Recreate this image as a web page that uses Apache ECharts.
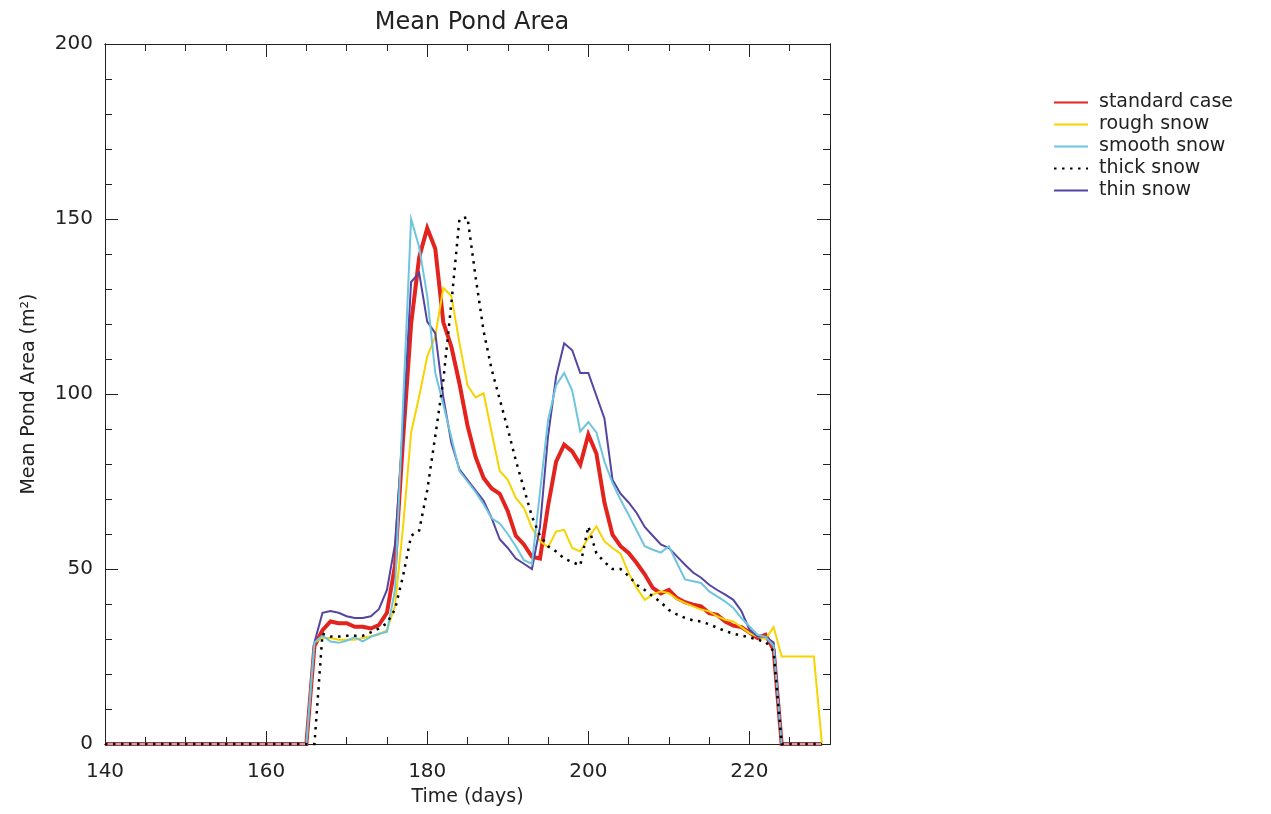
<!DOCTYPE html>
<html>
<head>
<meta charset="utf-8">
<script src="https://cdn.jsdelivr.net/npm/echarts@6/dist/echarts.min.js"></script>
<style>
html,body{margin:0;padding:0;background:#fff;}
#chart{width:1271px;height:814px;}
</style>
</head>
<body>
<div id="chart"></div>
<script>
const days = [140,141,142,143,144,145,146,147,148,149,150,151,152,153,154,155,156,157,158,159,
160,161,162,163,164,165,166,167,168,169,170,171,172,173,174,175,176,177,178,179,
180,181,182,183,184,185,186,187,188,189,190,191,192,193,194,195,196,197,198,199,
200,201,202,203,204,205,206,207,208,209,210,211,212,213,214,215,216,217,218,219,
220,221,222,223,224,225,226,227,228,229];

const standardCase = [0,0,0,0,0,0,0,0,0,0,0,0,0,0,0,0,0,0,0,0,0,0,0,0,0,0,
28,32.5,35,34.5,34.5,33.5,33.5,33,34,37.5,51,87,120,139,147.4,141.5,120.5,113.5,103,91,
82,76,73,71.5,66.5,59.5,57,53.5,53,68,80.7,85.5,83.6,79.8,88.4,83,69,59.8,56.5,54.6,
51.7,48.5,44.6,43,44,41.7,40.5,39.8,39.3,37.4,36.9,35,33.8,33.4,31.9,30.3,31.2,27,
0,0,0,0,0,0];

const roughSnow = [0,0,0,0,0,0,0,0,0,0,0,0,0,0,0,0,0,0,0,0,0,0,0,0,0,0,
29,30.3,30.3,29.8,29.8,29.8,30.3,30.8,31.3,32.5,39.5,62,89,99.3,110.7,116.5,130.3,128,114.6,102.5,
99,100.2,89,78,75.5,70.3,67.5,61.7,58,56.2,60.7,61.2,56,55,58.9,62.2,57.9,56,54.4,48.9,
44.6,41.2,42.7,43.6,43.1,41.4,40.3,39.3,38.4,37.9,36.5,35.5,35,33.4,31.7,30.7,30,33.4,
25,25,25,25,25,0];

const smoothSnow = [0,0,0,0,0,0,0,0,0,0,0,0,0,0,0,0,0,0,0,0,0,0,0,0,0,0,
29,31,29.3,28.9,29.5,30.5,29.3,30.6,31.5,32,44,97,150,142,128,106,97,87.5,78,75,
72,68.5,64.5,63,60,56.5,52.5,51.5,72,92.5,102.5,106,101,89.3,92,89,80.7,74.6,69.8,65.5,
61,56.5,55.5,54.7,56.5,51.7,47,46.5,46,43.6,42.2,40.7,38.9,36,33.6,31.2,30.6,28,
0,0,0,0,0,0];

const thickSnow = [0,0,0,0,0,0,0,0,0,0,0,0,0,0,0,0,0,0,0,0,0,0,0,0,0,0,
0,31.5,30.7,30.7,30.9,30.9,30.9,31.9,33,34.5,38.5,48,59.5,61,72.5,88,104,126,150,150.5,
133.5,118,107,98.5,90,81,73,65,59.5,56.5,55,53,52,51,62.2,54.5,52,50,50,48,
45.5,44,42.2,40.5,38.3,37,36,35.3,35,34.2,33.2,32.3,31.5,31,30.5,29.8,29.2,26.5,
0,0,0,0,0,0];

const thinSnow = [0,0,0,0,0,0,0,0,0,0,0,0,0,0,0,0,0,0,0,0,0,0,0,0,0,0,
29,37.5,38,37.5,36.5,36,36,36.5,38.5,44,57,90,132,134.6,120.7,117.4,99,86,78.5,75.5,
72.5,69.5,64.5,58.5,56,53,51.5,50,62,88,105,114.5,112.5,106,106,99.5,93,75.5,71.5,69,
66,62,59.5,57,56,53.6,51.2,49,47.5,45.5,44,42.7,41.2,38,32.7,30.7,30.7,29,
0,0,0,0,0,0];

const seriesNames = ['standard case','rough snow','smooth snow','thick snow','thin snow'];
const xTickLabels = ['140','160','180','200','220'];
const yTickLabels = ['0','50','100','150','200'];

const FONT = 'DejaVu Sans';
const INK = '#222';

function pairs(vals){ return days.map((d,i)=>[d, vals[i]]); }

const chart = echarts.init(document.getElementById('chart'), null, {renderer:'canvas'});

function xAxisDef(pos, interval, tickLen, showLabels, name){
  return {
    type:'value', position:pos, min:140, max:230, interval:interval,
    axisLine:{show:true, onZero:false, lineStyle:{color:INK, width:1}},
    axisTick:{show:true, inside:true, length:tickLen, lineStyle:{color:INK, width:1}},
    splitLine:{show:false},
    axisLabel:{show:showLabels, margin:18, fontFamily:FONT, fontSize:20, color:INK,
      showMaxLabel:false,
      formatter:function(v){ const s=String(v); return xTickLabels.indexOf(s)>=0 ? s : ''; }},
    name: name || '', nameLocation:'middle', nameGap:44,
    nameTextStyle:{fontFamily:FONT, fontSize:19, color:INK}
  };
}
function yAxisDef(pos, interval, tickLen, showLabels, name){
  return {
    type:'value', position:pos, min:0, max:200, interval:interval,
    axisLine:{show:true, onZero:false, lineStyle:{color:INK, width:1}},
    axisTick:{show:true, inside:true, length:tickLen, lineStyle:{color:INK, width:1}},
    splitLine:{show:false},
    axisLabel:{show:showLabels, margin:12, fontFamily:FONT, fontSize:20, color:INK,
      formatter:function(v){ const s=String(v); return yTickLabels.indexOf(s)>=0 ? s : ''; }},
    name: name || '', nameLocation:'middle', nameGap:66, nameRotate:90,
    nameTextStyle:{fontFamily:FONT, fontSize:19, color:INK}
  };
}

const lineDefs = [
  {name:'standard case', data:standardCase, color:'#e2231e', width:4, type:'solid'},
  {name:'rough snow', data:roughSnow, color:'#f7d400', width:2, type:'solid'},
  {name:'thin snow', data:thinSnow, color:'#5445a3', width:2, type:'solid'},
  {name:'smooth snow', data:smoothSnow, color:'#6fc4de', width:2, type:'solid'},
  {name:'thick snow', data:thickSnow, color:'#000000', width:2.5, type:[2.5,5.5]}
];

const option = {
  backgroundColor:'#ffffff',
  animation:false,
  title:{
    text:'Mean Pond Area', left:467, top:6, textAlign:'center',
    textStyle:{fontFamily:FONT, fontSize:24, fontWeight:'normal', color:INK}
  },
  grid:{left:105, right:441, top:44, bottom:70, containLabel:false},
  xAxis:[
    xAxisDef('bottom', 20, 13, true, 'Time (days)'),
    xAxisDef('bottom', 5, 7, false),
    xAxisDef('top', 20, 13, false),
    xAxisDef('top', 5, 7, false)
  ],
  yAxis:[
    yAxisDef('left', 50, 13, true, 'Mean Pond Area (m²)'),
    yAxisDef('left', 10, 7, false),
    yAxisDef('right', 50, 13, false),
    yAxisDef('right', 10, 7, false)
  ],
  legend:{
    orient:'vertical', left:1053, top:93, padding:0,
    data:seriesNames,
    itemWidth:34, itemHeight:14, itemGap:3,
    lineStyle:{width:2},
    itemStyle:{opacity:0},
    textStyle:{fontFamily:FONT, fontSize:19, color:INK, padding:[0,0,0,6]},
    selectedMode:false
  },
  series: lineDefs.map(d=>({
    name:d.name, type:'line', xAxisIndex:0, yAxisIndex:0,
    data:pairs(d.data), showSymbol:false, symbol:'none', clip:false,
    lineStyle:{color:d.color, width:d.width, type:d.type, cap:'butt', join:'miter'},
    itemStyle:{color:d.color},
    emphasis:{disabled:true}
  }))
};
chart.setOption(option);
</script>
</body>
</html>
